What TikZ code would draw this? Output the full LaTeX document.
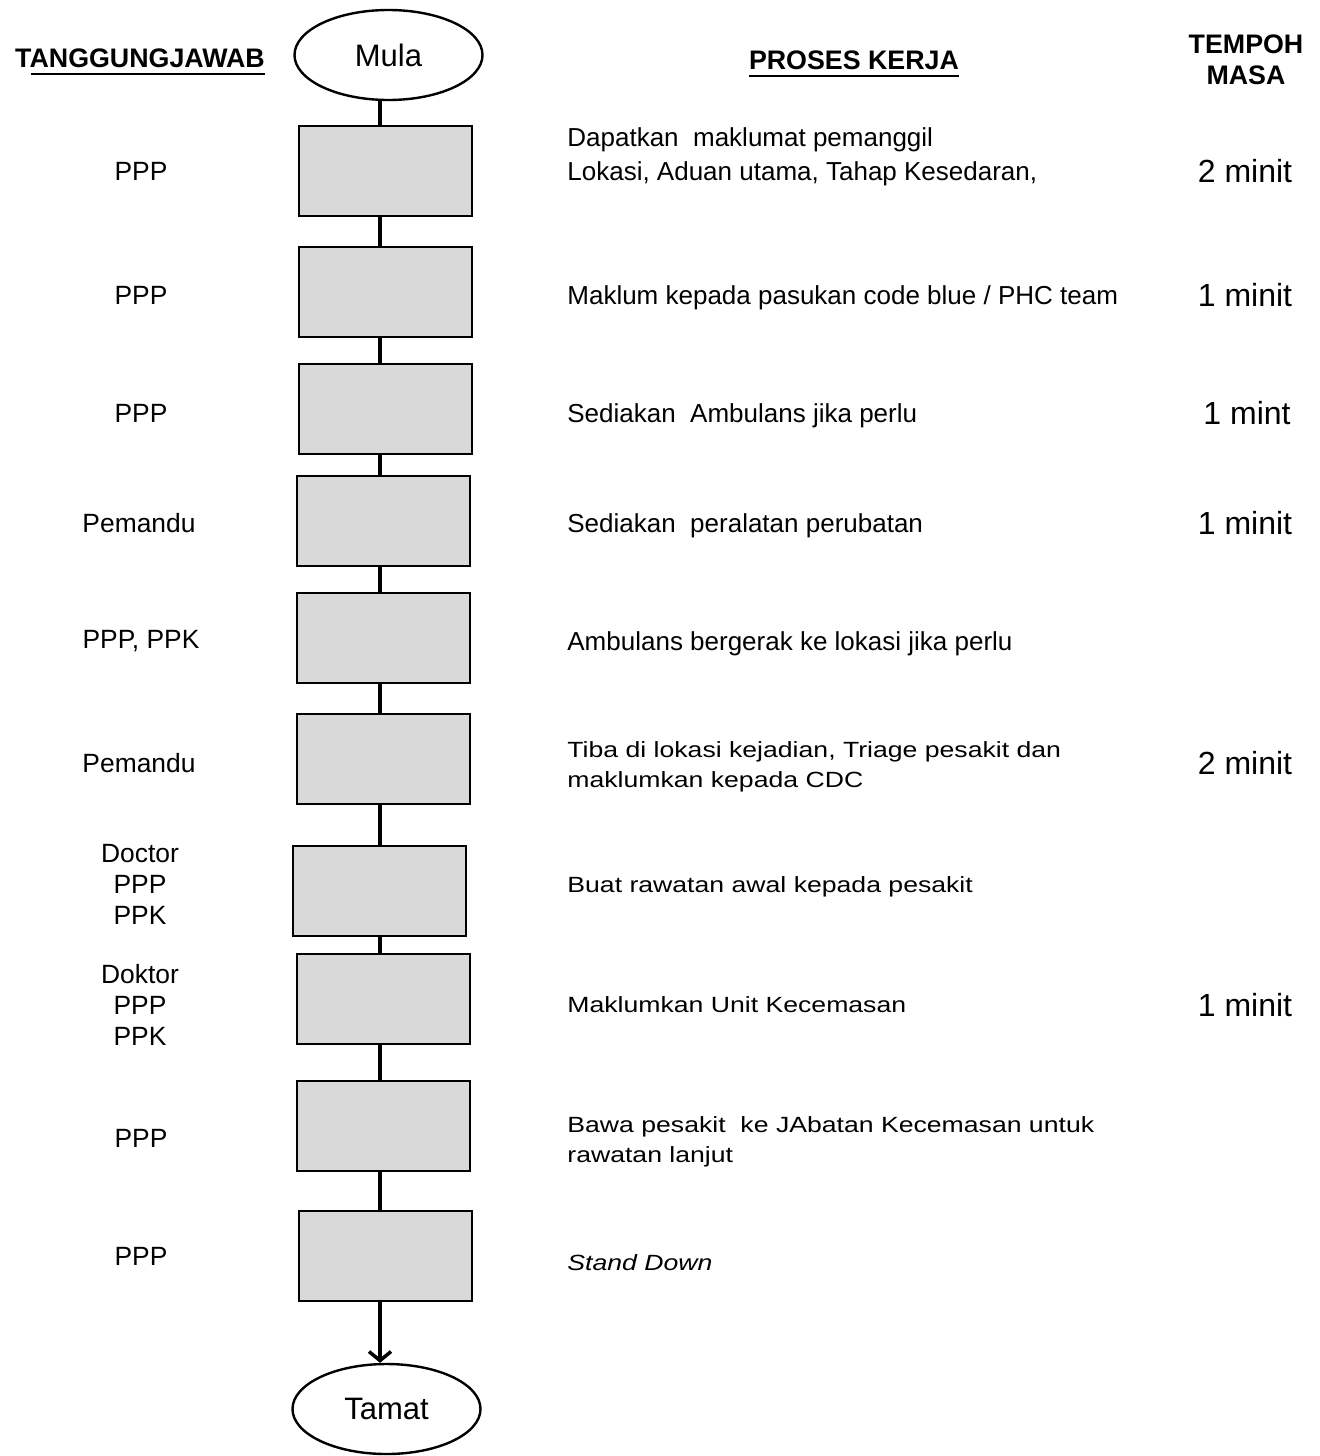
\documentclass[tikz,border=0pt]{standalone}
\usepackage{fontspec}
\usepackage{graphicx}
\setmainfont{Liberation Sans}
\usetikzlibrary{shapes.geometric,arrows.meta}
\definecolor{boxgray}{HTML}{D9D9D9}
\newcommand{\stretchtext}[1]{\scalebox{1.21}[1]{\begin{tabular}{@{}l@{}}#1\end{tabular}}}
\begin{document}
\begin{tikzpicture}[x=0.5pt,y=-0.5pt,
  stepbox/.style={draw, line width=1pt, fill=boxgray, minimum width=86.5pt, minimum height=45pt, inner sep=0pt},
  term/.style={ellipse, draw, line width=1.2pt, minimum width=94pt, minimum height=45pt, inner sep=0pt, font=\fontsize{15.5}{18}\selectfont},
  resp/.style={inner sep=0pt, align=center, font=\fontsize{13.2}{15.5}\selectfont},
  proc/.style={inner sep=0pt, anchor=west, align=left, font=\fontsize{13}{17}\selectfont},
  procs/.style={inner sep=0pt, anchor=west, align=left, font=\fontsize{11}{15}\selectfont},
  tm/.style={inner sep=0pt, font=\fontsize{16}{19}\selectfont},
  head/.style={inner sep=0pt, align=center, font=\bfseries\fontsize{13.4}{15.5}\selectfont},
  uline/.style={line width=1.3pt},
  conn/.style={line width=1.75pt}]
\useasboundingbox (0,0) rectangle (1319,1456);
\coordinate (spine) at (380,0);

% headers
\node[head] (h1) at (140,58) {TANGGUNGJAWAB};
\node[head] (h2) at (854,60) {PROSES KERJA};
\node[head] (h3) at (1246,60) {TEMPOH\\MASA};
\draw[uline] ([xshift=8.2pt,yshift=-3.3pt]h1.base west) -- ([yshift=-3.3pt]h1.base east);
\draw[uline] ([yshift=-3.3pt]h2.base west) -- ([yshift=-3.3pt]h2.base east);

% terminals
\node[term] (mula) at (388.5,55) {Mula};
\node[term] (tamat) at (386.5,1409) {Tamat};

% boxes
\node[stepbox] (b1) at (385.5,171) {};
\node[stepbox] (b2) at (385.5,292) {};
\node[stepbox] (b3) at (385.5,409) {};
\node[stepbox] (b4) at (383.5,521) {};
\node[stepbox] (b5) at (383.5,638) {};
\node[stepbox] (b6) at (383.5,758.5) {};
\node[stepbox] (b7) at (379.5,890.5) {};
\node[stepbox] (b8) at (383.5,999) {};
\node[stepbox] (b9) at (383,1126) {};
\node[stepbox] (b10) at (385.5,1255.5) {};

% connectors
\draw[conn] (mula.south -| spine) -- (b1.north -| spine);
\draw[conn] (b1.south -| spine) -- (b2.north -| spine);
\draw[conn] (b2.south -| spine) -- (b3.north -| spine);
\draw[conn] (b3.south -| spine) -- (b4.north -| spine);
\draw[conn] (b4.south -| spine) -- (b5.north -| spine);
\draw[conn] (b5.south -| spine) -- (b6.north -| spine);
\draw[conn] (b6.south -| spine) -- (b7.north -| spine);
\draw[conn] (b7.south -| spine) -- (b8.north -| spine);
\draw[conn] (b8.south -| spine) -- (b9.north -| spine);
\draw[conn] (b9.south -| spine) -- (b10.north -| spine);
\draw[conn, -{Straight Barb[length=4.5pt,width=11pt]}] (b10.south -| spine) -- (tamat.north -| spine);

% responsibility column
\node[resp] (r1) at (141,171) {PPP};
\node[resp] (r2) at (141,295) {PPP};
\node[resp] (r3) at (141,413) {PPP};
\node[resp] (r4) at (139,523) {Pemandu};
\node[resp] (r5) at (141,641) {PPP, PPK};
\node[resp] (r6) at (139,763) {Pemandu};
\node[resp] (r7) at (140,884) {Doctor\\PPP\\PPK};
\node[resp] (r8) at (140,1005) {Doktor\\PPP\\PPK};
\node[resp] (r9) at (141,1138) {PPP};
\node[resp] (r10) at (141,1256) {PPP};

% process column
\node[proc] (p1) at (567,157) {Dapatkan\ \ maklumat pemanggil\\Lokasi, Aduan utama, Tahap Kesedaran,};
\node[proc] (p2) at (567,298) {Maklum kepada pasukan code blue / PHC team};
\node[proc] (p3) at (567,416) {Sediakan\ \ Ambulans jika perlu};
\node[proc] (p4) at (567,526) {Sediakan\ \ peralatan perubatan};
\node[proc] (p5) at (567,644) {Ambulans bergerak ke lokasi jika perlu};
\node[procs] (p6) at (567,766) {\stretchtext{Tiba di lokasi kejadian, Triage pesakit dan\\maklumkan kepada CDC}};
\node[procs] (p7) at (567,886) {\stretchtext{Buat rawatan awal kepada pesakit}};
\node[procs] (p8) at (567,1006) {\stretchtext{Maklumkan Unit Kecemasan}};
\node[procs] (p9) at (567,1141) {\stretchtext{Bawa pesakit\ \ ke JAbatan Kecemasan untuk\\rawatan lanjut}};
\node[procs] (p10) at (567,1264) {\stretchtext{\itshape Stand Down}};

% time column
\node[tm] (t1) at (1245,171) {2 minit};
\node[tm] (t2) at (1245,295) {1 minit};
\node[tm] (t3) at (1247,413) {1 mint};
\node[tm] (t4) at (1245,523) {1 minit};
\node[tm] (t6) at (1245,763) {2 minit};
\node[tm] (t8) at (1245,1005) {1 minit};
\end{tikzpicture}
\end{document}
